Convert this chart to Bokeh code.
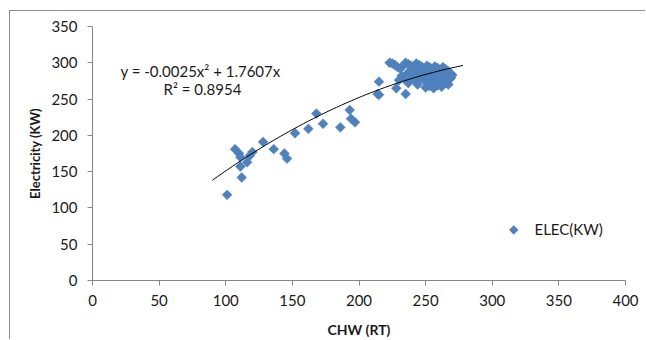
from bokeh.plotting import figure
from bokeh.models import (ColumnDataSource, Label, FixedTicker, Range1d)
from bokeh.embed import file_html
from bokeh.resources import INLINE
import numpy as np

# ---- data ----
chw = [101, 112, 107, 110, 111, 116, 111, 120, 118, 128, 136, 144, 146,
       152, 162, 168, 173, 186, 193, 194, 197, 214, 215, 215, 228, 235,
       223, 225, 227, 229, 231, 233, 235, 237, 239, 241, 243, 245, 247, 249,
       251, 253, 255, 257, 259, 261, 263, 265, 267, 269,
       232, 234, 236, 238, 240, 242, 244, 246, 248, 250, 252, 254, 256, 258,
       260, 262, 264, 266, 268, 270,
       250, 253, 256, 259, 262, 265, 267, 255, 260, 245, 240, 236, 230, 237,
       244, 248, 252, 257, 263, 266, 269, 262, 258]
elec = [118, 142, 181, 175, 170, 163, 157, 177, 172, 191, 181, 175, 168,
        203, 209, 230, 216, 211, 235, 223, 218, 257, 274, 256, 265, 257,
        300, 299, 297, 294, 292, 296, 300, 298, 296, 293, 299, 297, 295, 292,
        296, 294, 291, 295, 293, 290, 294, 291, 288, 285,
        282, 278, 285, 288, 281, 276, 284, 279, 287, 274, 281, 270, 277, 284,
        272, 279, 286, 275, 281, 283,
        266, 268, 265, 269, 267, 272, 270, 287, 282, 289, 290, 280, 276, 272,
        270, 283, 290, 288, 283, 278, 279, 274, 276]

x_ticks = [0, 50, 100, 150, 200, 250, 300, 350, 400]
y_ticks = [0, 50, 100, 150, 200, 250, 300, 350]

trend_a = -0.0025
trend_b = 1.7607
trend_x_start = 90
trend_x_end = 278
eq_text = "y = -0.0025x\u00b2 + 1.7607x"
r2_text = "R\u00b2 = 0.8954"
series_name = "ELEC(KW)"

FONT = "Lato"
BLUE = "#4F81BD"
AXIS_GRAY = "#868686"
TEXT = "#1a1a1a"

p = figure(width=636, height=329, output_backend="svg", toolbar_location=None,
           x_range=Range1d(0, 400), y_range=Range1d(0, 350),
           min_border_left=82, min_border_right=21, min_border_top=15,
           min_border_bottom=60)
p.styles = {"margin-left": "9px", "margin-top": "10px",
            "border-top": "1px solid #8c8c8c", "border-left": "1px solid #8c8c8c"}
p.outline_line_color = None
p.xgrid.visible = False
p.ygrid.visible = False

src = ColumnDataSource(dict(x=chw, y=elec))
pts = p.scatter("x", "y", source=src, marker="square", size=7, angle=np.pi / 4,
                fill_color=BLUE, line_color=BLUE, line_width=0.5)

tx = np.linspace(trend_x_start, trend_x_end, 100)
ty = trend_a * tx ** 2 + trend_b * tx
p.line(tx, ty, line_color="black", line_width=1)

for ax, ticks in ((p.xaxis[0], x_ticks), (p.yaxis[0], y_ticks)):
    ax.ticker = FixedTicker(ticks=ticks)
    ax.axis_line_color = AXIS_GRAY
    ax.major_tick_line_color = AXIS_GRAY
    ax.major_tick_in = 0
    ax.major_tick_out = 5
    ax.minor_tick_line_color = None
    ax.major_label_text_font = FONT
    ax.major_label_text_font_size = "15px"
    ax.major_label_text_color = TEXT
    ax.axis_label_text_font = FONT
    ax.axis_label_text_font_style = "bold"
    ax.axis_label_text_color = TEXT

p.xaxis.axis_label = "CHW (RT)"
p.xaxis.axis_label_text_font_size = "14px"
p.xaxis.major_label_standoff = 9
p.xaxis.axis_label_standoff = 12
p.yaxis.axis_label = "Electricity (KW)"
p.yaxis.axis_label_text_font_size = "13px"
p.yaxis.major_label_standoff = 10
p.yaxis.axis_label_standoff = 5

p.add_layout(Label(x=28, y=210, x_units="screen", y_units="screen", text=eq_text,
                   text_font=FONT, text_font_size="15px", text_baseline="middle",
                   text_color=TEXT))
p.add_layout(Label(x=71, y=192, x_units="screen", y_units="screen", text=r2_text,
                   text_font=FONT, text_font_size="15px", text_baseline="middle",
                   text_color=TEXT))

# legend (diamond marker + series name)
p.add_layout(Label(x=421, y=52, x_units="screen", y_units="screen", text="\u25c6",
                   text_font="DejaVu Sans", text_font_size="12px",
                   text_align="center", text_baseline="middle", text_color=BLUE))
p.add_layout(Label(x=442, y=52, x_units="screen", y_units="screen", text=series_name,
                   text_font=FONT, text_font_size="15px", text_baseline="middle",
                   text_color=TEXT))

open("out.html", "w").write(file_html(p, INLINE))
